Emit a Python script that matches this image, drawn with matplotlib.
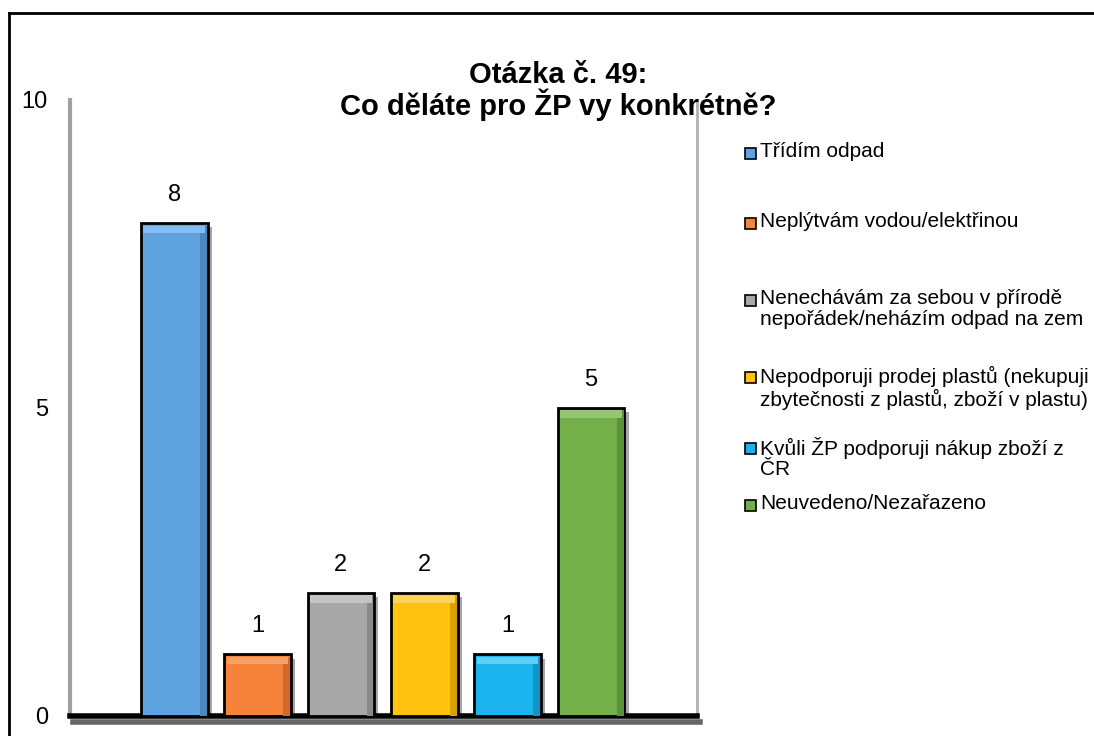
import matplotlib
matplotlib.use('Agg')
import matplotlib.pyplot as plt
import matplotlib.patheffects as pe
from matplotlib.lines import Line2D
from matplotlib.patches import Rectangle

plt.rcParams['font.family'] = ['Liberation Sans', 'DejaVu Sans']

categories = ['Třídím odpad',
              'Neplýtvám vodou/elektřinou',
              'Nenechávám za sebou v přírodě\nnepořádek/neházím odpad na zem',
              'Nepodporuji prodej plastů (nekupuji\nzbytečnosti z plastů, zboží v plastu)',
              'Kvůli ŽP podporuji nákup zboží z\nČR',
              'Neuvedeno/Nezařazeno']
values = [8, 1, 2, 2, 1, 5]
colors = ['#5fa2e0', '#f5843a', '#a8a8a8', '#ffc20e', '#1bb4ee', '#74b04a']
dark = ['#4b86bd', '#d06a26', '#8a8a8a', '#d9a200', '#1194c6', '#5c9238']
light = ['#86bdf0', '#f9a066', '#c4c4c4', '#ffd456', '#62cdf6', '#94c76e']

fig = plt.figure(figsize=(10.94, 7.36), dpi=100)
ax = fig.add_axes([0.064, 0.0272, 0.573, 0.837])

x = list(range(len(values)))
bars = ax.bar(x, values, width=0.8, color=colors, edgecolor='black', linewidth=2, zorder=3)
for b in bars:
    b.set_path_effects([pe.SimplePatchShadow(offset=(3, -3), shadow_rgbFace='black', alpha=0.35), pe.Normal()])
# bevel: darker right edge and lighter top edge
ax.bar([i + 0.35 for i in x], [v - 0.04 for v in values], width=0.08, color=dark, linewidth=0, zorder=4)
ax.bar(x, [0.12] * len(values), bottom=[v - 0.16 for v in values], width=0.74, color=light, linewidth=0, zorder=4)

for i, v in enumerate(values):
    ax.text(i, v + 0.28, str(v), ha='center', va='bottom', fontsize=17)

ax.set_xlim(-1.25, 6.27)
ax.set_ylim(0, 10)
ax.set_yticks([0, 5, 10])
ax.set_xticks([])
ax.tick_params(axis='y', length=0, labelsize=17, pad=16)
ax.spines['top'].set_visible(False)
ax.spines['left'].set_color('#a0a0a0')
ax.spines['left'].set_linewidth(3)
ax.spines['right'].set_color('#b0b0b0')
ax.spines['right'].set_linewidth(2)
ax.spines['bottom'].set_linewidth(4)
ax.spines['bottom'].set_path_effects([pe.SimpleLineShadow(offset=(2, -4), alpha=0.6), pe.Normal()])

fig.text(0.51, 0.876, 'Otázka č. 49:\nCo děláte pro ŽP vy konkrétně?', ha='center', va='center',
         fontsize=21, fontweight='bold', linespacing=0.98)

# legend
leg_y = [154, 224, 301, 378, 449, 506]
for c, lab, yy in zip(colors, categories, leg_y):
    fy = 1 - yy / 736
    fig.add_artist(Rectangle((745 / 1094, fy - 5 / 736), 11 / 1094, 11 / 736, facecolor=c,
                             edgecolor='black', linewidth=1.2, transform=fig.transFigure))
    fig.text(760 / 1094, fy + 12 / 736, lab, ha='left', va='top', fontsize=15, linespacing=1.1)

# chart border
fig.add_artist(Line2D([9 / 1094, 9 / 1094], [0, 1 - 13 / 736], color='black', lw=2))
fig.add_artist(Line2D([9 / 1094, 1], [1 - 13 / 736, 1 - 13 / 736], color='black', lw=2))

fig.savefig('out.png', dpi=100)
